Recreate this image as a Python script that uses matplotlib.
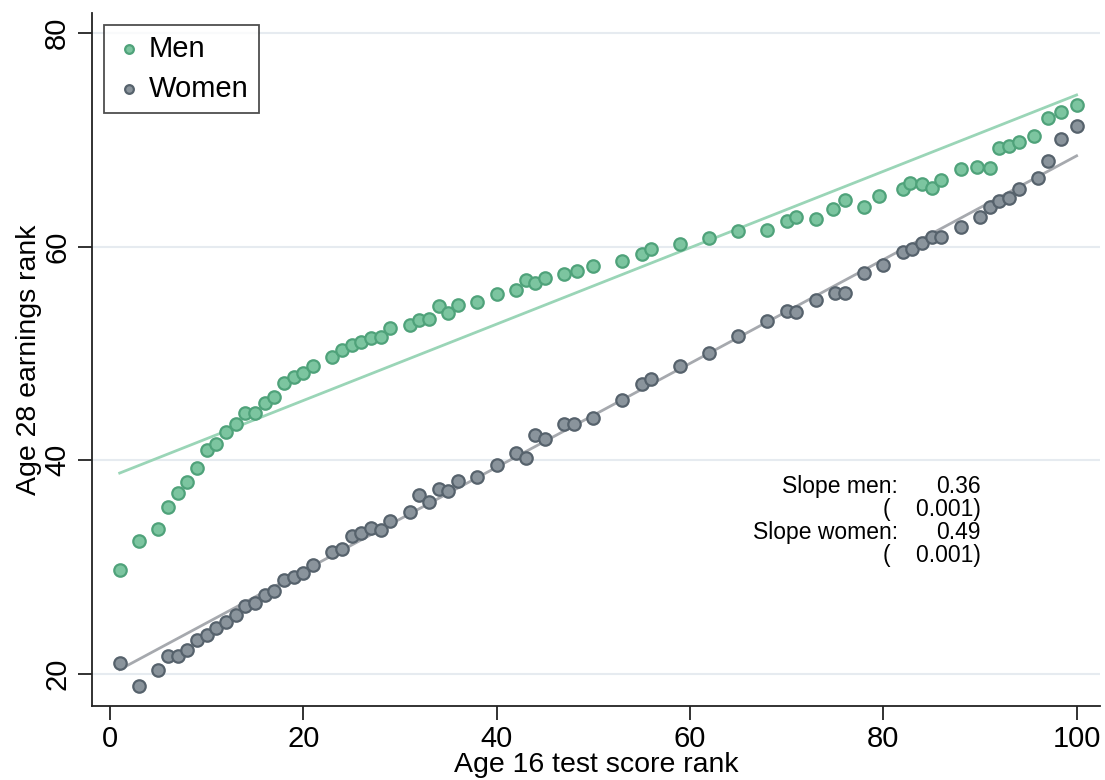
import matplotlib.pyplot as plt
import numpy as np

plt.rcParams['font.family'] = ['Liberation Sans', 'DejaVu Sans']

# binned means: age 16 test score rank vs age 28 earnings rank
men_x = [1, 3, 5, 6, 7, 8, 9, 10, 11, 12, 13, 14, 15, 16, 17, 18, 19, 20, 21, 23,
         24, 25, 26, 27, 28, 29, 31, 32, 33, 34, 35, 36, 38, 40, 42, 43, 44, 45, 47, 48.3,
         50, 53, 55, 56, 59, 62, 65, 68, 70, 71, 73, 74.8, 76, 78, 79.6, 82, 82.8, 84, 85, 86,
         88, 89.7, 91, 92, 93, 94, 95.6, 97, 98.4, 100]
men_y = [29.7, 32.4, 33.6, 35.6, 36.9, 38.0, 39.3, 41.0, 41.5, 42.6, 43.4, 44.4, 44.4, 45.4, 45.9, 47.2, 47.8, 48.2, 48.8, 49.7,
         50.3, 50.8, 51.1, 51.4, 51.5, 52.4, 52.7, 53.1, 53.2, 54.4, 53.8, 54.5, 54.8, 55.6, 55.9, 56.9, 56.6, 57.1, 57.4, 57.7,
         58.2, 58.7, 59.3, 59.8, 60.2, 60.8, 61.5, 61.6, 62.4, 62.8, 62.6, 63.5, 64.4, 63.7, 64.7, 65.4, 66.0, 65.9, 65.5, 66.2,
         67.3, 67.5, 67.4, 69.2, 69.4, 69.8, 70.4, 72.0, 72.6, 73.3]

women_x = [1, 3, 5, 6, 7, 8, 9, 10, 11, 12, 13, 14, 15, 16, 17, 18, 19, 20, 21, 23,
           24, 25, 26, 27, 28, 29, 31, 32, 33, 34, 35, 36, 38, 40, 42, 43, 44, 45, 47, 48,
           50, 53, 55, 56, 59, 62, 65, 68, 70, 71, 73, 75, 76, 78, 80, 82, 83, 84, 85, 86,
           88, 90, 91, 92, 93, 94, 96, 97, 98.4, 100]
women_y = [21.0, 18.9, 20.4, 21.7, 21.7, 22.2, 23.2, 23.6, 24.3, 24.9, 25.5, 26.4, 26.6, 27.4, 27.8, 28.8, 29.1, 29.4, 30.2, 31.4,
           31.7, 32.9, 33.2, 33.7, 33.5, 34.3, 35.2, 36.7, 36.1, 37.3, 37.1, 38.1, 38.4, 39.6, 40.7, 40.2, 42.4, 42.0, 43.4, 43.4,
           44.0, 45.6, 47.1, 47.6, 48.8, 50.0, 51.6, 53.0, 54.0, 53.9, 55.0, 55.7, 55.7, 57.5, 58.3, 59.5, 59.8, 60.3, 60.9, 60.9,
           61.8, 62.8, 63.7, 64.3, 64.6, 65.4, 66.4, 68.0, 70.1, 71.3]

# fitted lines (endpoints)
fit_x = [1, 100]
men_fit = [38.8, 74.2]
women_fit = [20.4, 68.5]

slope_labels = ['Slope men:', '', 'Slope women:', '']
slope_values = ['0.36', '(    0.001)', '0.49', '(    0.001)']

fig = plt.figure(figsize=(11.05, 7.8), dpi=100)
ax = fig.add_axes([0.0833, 0.095, 0.912, 0.888])

men_fill, men_edge, men_line = '#7cc5a0', '#4fa27a', '#9ad5b7'
wom_fill, wom_edge, wom_line = '#8a949c', '#56626c', '#a6a9ae'

ax.plot(fit_x, men_fit, color=men_line, lw=2, zorder=2)
ax.plot(fit_x, women_fit, color=wom_line, lw=2, zorder=2)
ax.scatter(men_x, men_y, s=80, c=men_fill, edgecolors=men_edge, linewidths=1.6,
           label='Men', zorder=3)
ax.scatter(women_x, women_y, s=80, c=wom_fill, edgecolors=wom_edge, linewidths=1.6,
           label='Women', zorder=3)

ax.set_xlim(-1.86, 102.4)
ax.set_ylim(17.0, 81.85)
ax.set_xticks([0, 20, 40, 60, 80, 100])
ax.set_yticks([20, 40, 60, 80])
ax.yaxis.grid(True, color='#e6ebf0', lw=1.5, zorder=0)
ax.set_axisbelow(True)
for s in ['top', 'right']:
    ax.spines[s].set_visible(False)
for s in ['left', 'bottom']:
    ax.spines[s].set_linewidth(1.3)
    ax.spines[s].set_color('#222222')

ax.tick_params(axis='both', labelsize=21, length=10, width=1.3, color='#222222')
ax.tick_params(axis='y', pad=5)
ax.tick_params(axis='x', pad=4)
plt.setp(ax.get_yticklabels(), rotation=90, va='center')
ax.set_xlabel('Age 16 test score rank', fontsize=20.5, labelpad=-1)
ax.set_ylabel('Age 28 earnings rank', fontsize=20.5, labelpad=1)

leg = ax.legend(loc='upper left', bbox_to_anchor=(0.0, 1.0), fontsize=21,
                frameon=True, fancybox=False, edgecolor='#222222',
                handletextpad=0.2, borderpad=0.35, labelspacing=0.4,
                markerscale=0.7, handlelength=1.0, borderaxespad=0.4)
leg.get_frame().set_linewidth(1.3)

# slope annotation
for i in range(len(slope_labels)):
    yy = 37.5 - i * 2.13
    ax.text(81.5, yy, slope_labels[i], ha='right', va='center', fontsize=16.5)
    ax.text(90.1, yy, slope_values[i], ha='right', va='center', fontsize=16.5)

fig.savefig('out.png', dpi=100)
